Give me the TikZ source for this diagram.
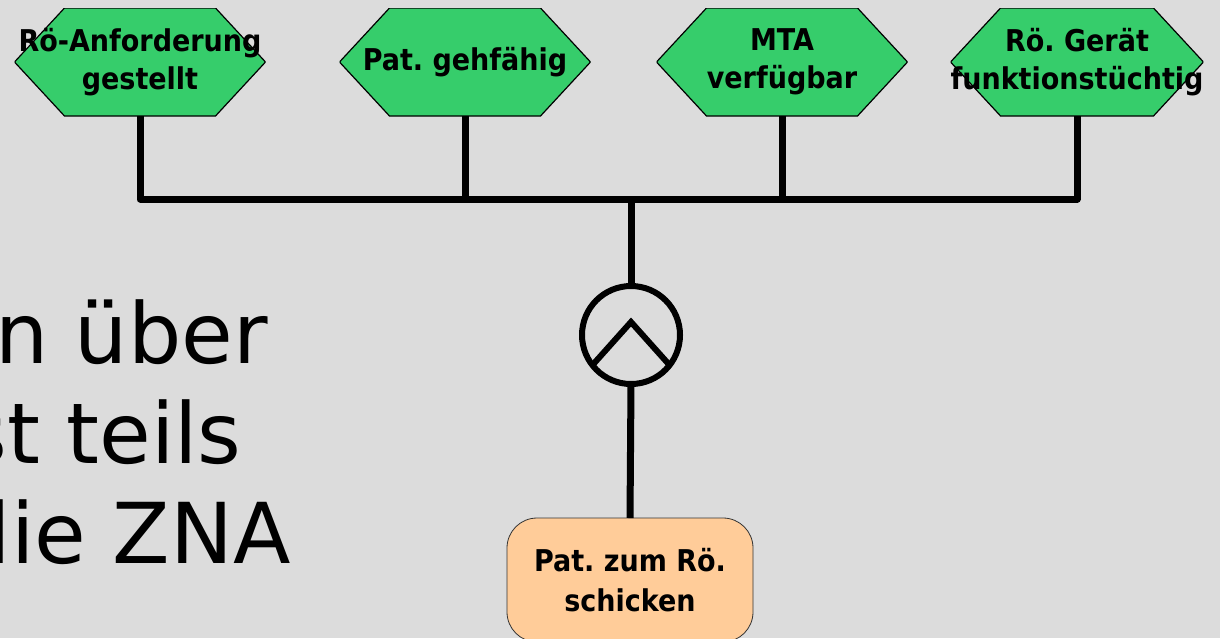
\documentclass[tikz,border=0pt]{standalone}
\usepackage{fontspec}
\setmainfont{DejaVu Sans}
\newfontfamily\labelfont{DejaVu Sans Condensed Bold}
\definecolor{bggray}{HTML}{DCDCDC}
\definecolor{evgreen}{HTML}{36CD6B}
\definecolor{funcpeach}{HTML}{FFCC99}
\tikzset{
  event/.style={rectangle, minimum width=251pt, minimum height=108pt, inner sep=0pt, outer sep=0pt,
    align=center, font=\labelfont\fontsize{30}{38}\selectfont,
    path picture={\filldraw[fill=evgreen, draw=black, line width=1.2pt]
      (path picture bounding box.west) -- ([xshift=50pt]path picture bounding box.north west)
      -- ([xshift=-50pt]path picture bounding box.north east) -- (path picture bounding box.east)
      -- ([xshift=-50pt]path picture bounding box.south east)
      -- ([xshift=50pt]path picture bounding box.south west) -- cycle;}},
  func/.style={rectangle, rounded corners=30pt, draw=black!80, line width=0.8pt,
    fill=funcpeach, minimum width=246pt, minimum height=124pt, outer sep=0pt,
    align=center, font=\labelfont\fontsize{30}{40}\selectfont},
  andop/.style={circle, draw, line width=6pt, minimum size=98pt, inner sep=0pt, outer sep=0pt},
  conn/.style={line width=7pt, line join=round},
  bigtext/.style={inner sep=0pt, anchor=base east, font=\fontsize{84}{100}\selectfont}
}
\frenchspacing
\begin{document}
\begin{tikzpicture}[x=1pt,y=-1pt]
  \useasboundingbox (0,0) rectangle (1220,638);
  \fill[bggray] (0,0) rectangle (1220,638);
  % big text on the slide
  \node[bigtext] (t1) at (268,363) {n über};
  \node[bigtext] (t2) at (242,463) {st teils};
  \node[bigtext] (t3) at (291,563) {die ZNA};
  % events
  \node[event] (h1) at (140,62) {Rö-Anforderung\\gestellt};
  \node[event] (h2) at (465,62) {Pat. gehfähig};
  \node[event] (h3) at (782,62) {MTA\\verfügbar};
  \node[event] (h4) at (1077,62) {Rö. Gerät\\funktionstüchtig};
  \coordinate (join) at (631,199);
  % and connector
  \node[andop] (and) at (631,335) {};
  \draw[line width=6pt, line join=miter] (and.218) -- ([yshift=13pt]and.center) -- (and.322);
  % function
  \node[func] (f1) at (630,580) {Pat. zum Rö.\\ schicken};
  \draw[conn] (h1.south) |- (join) -| (h4.south);
  \draw[conn] (h2.south) -- (h2.south |- join);
  \draw[conn] (h3.south) -- (h3.south |- join);
  \draw[conn] (join) -- (and.north);
  \draw[conn] (and.south) -- (f1.north);
\end{tikzpicture}
\end{document}
